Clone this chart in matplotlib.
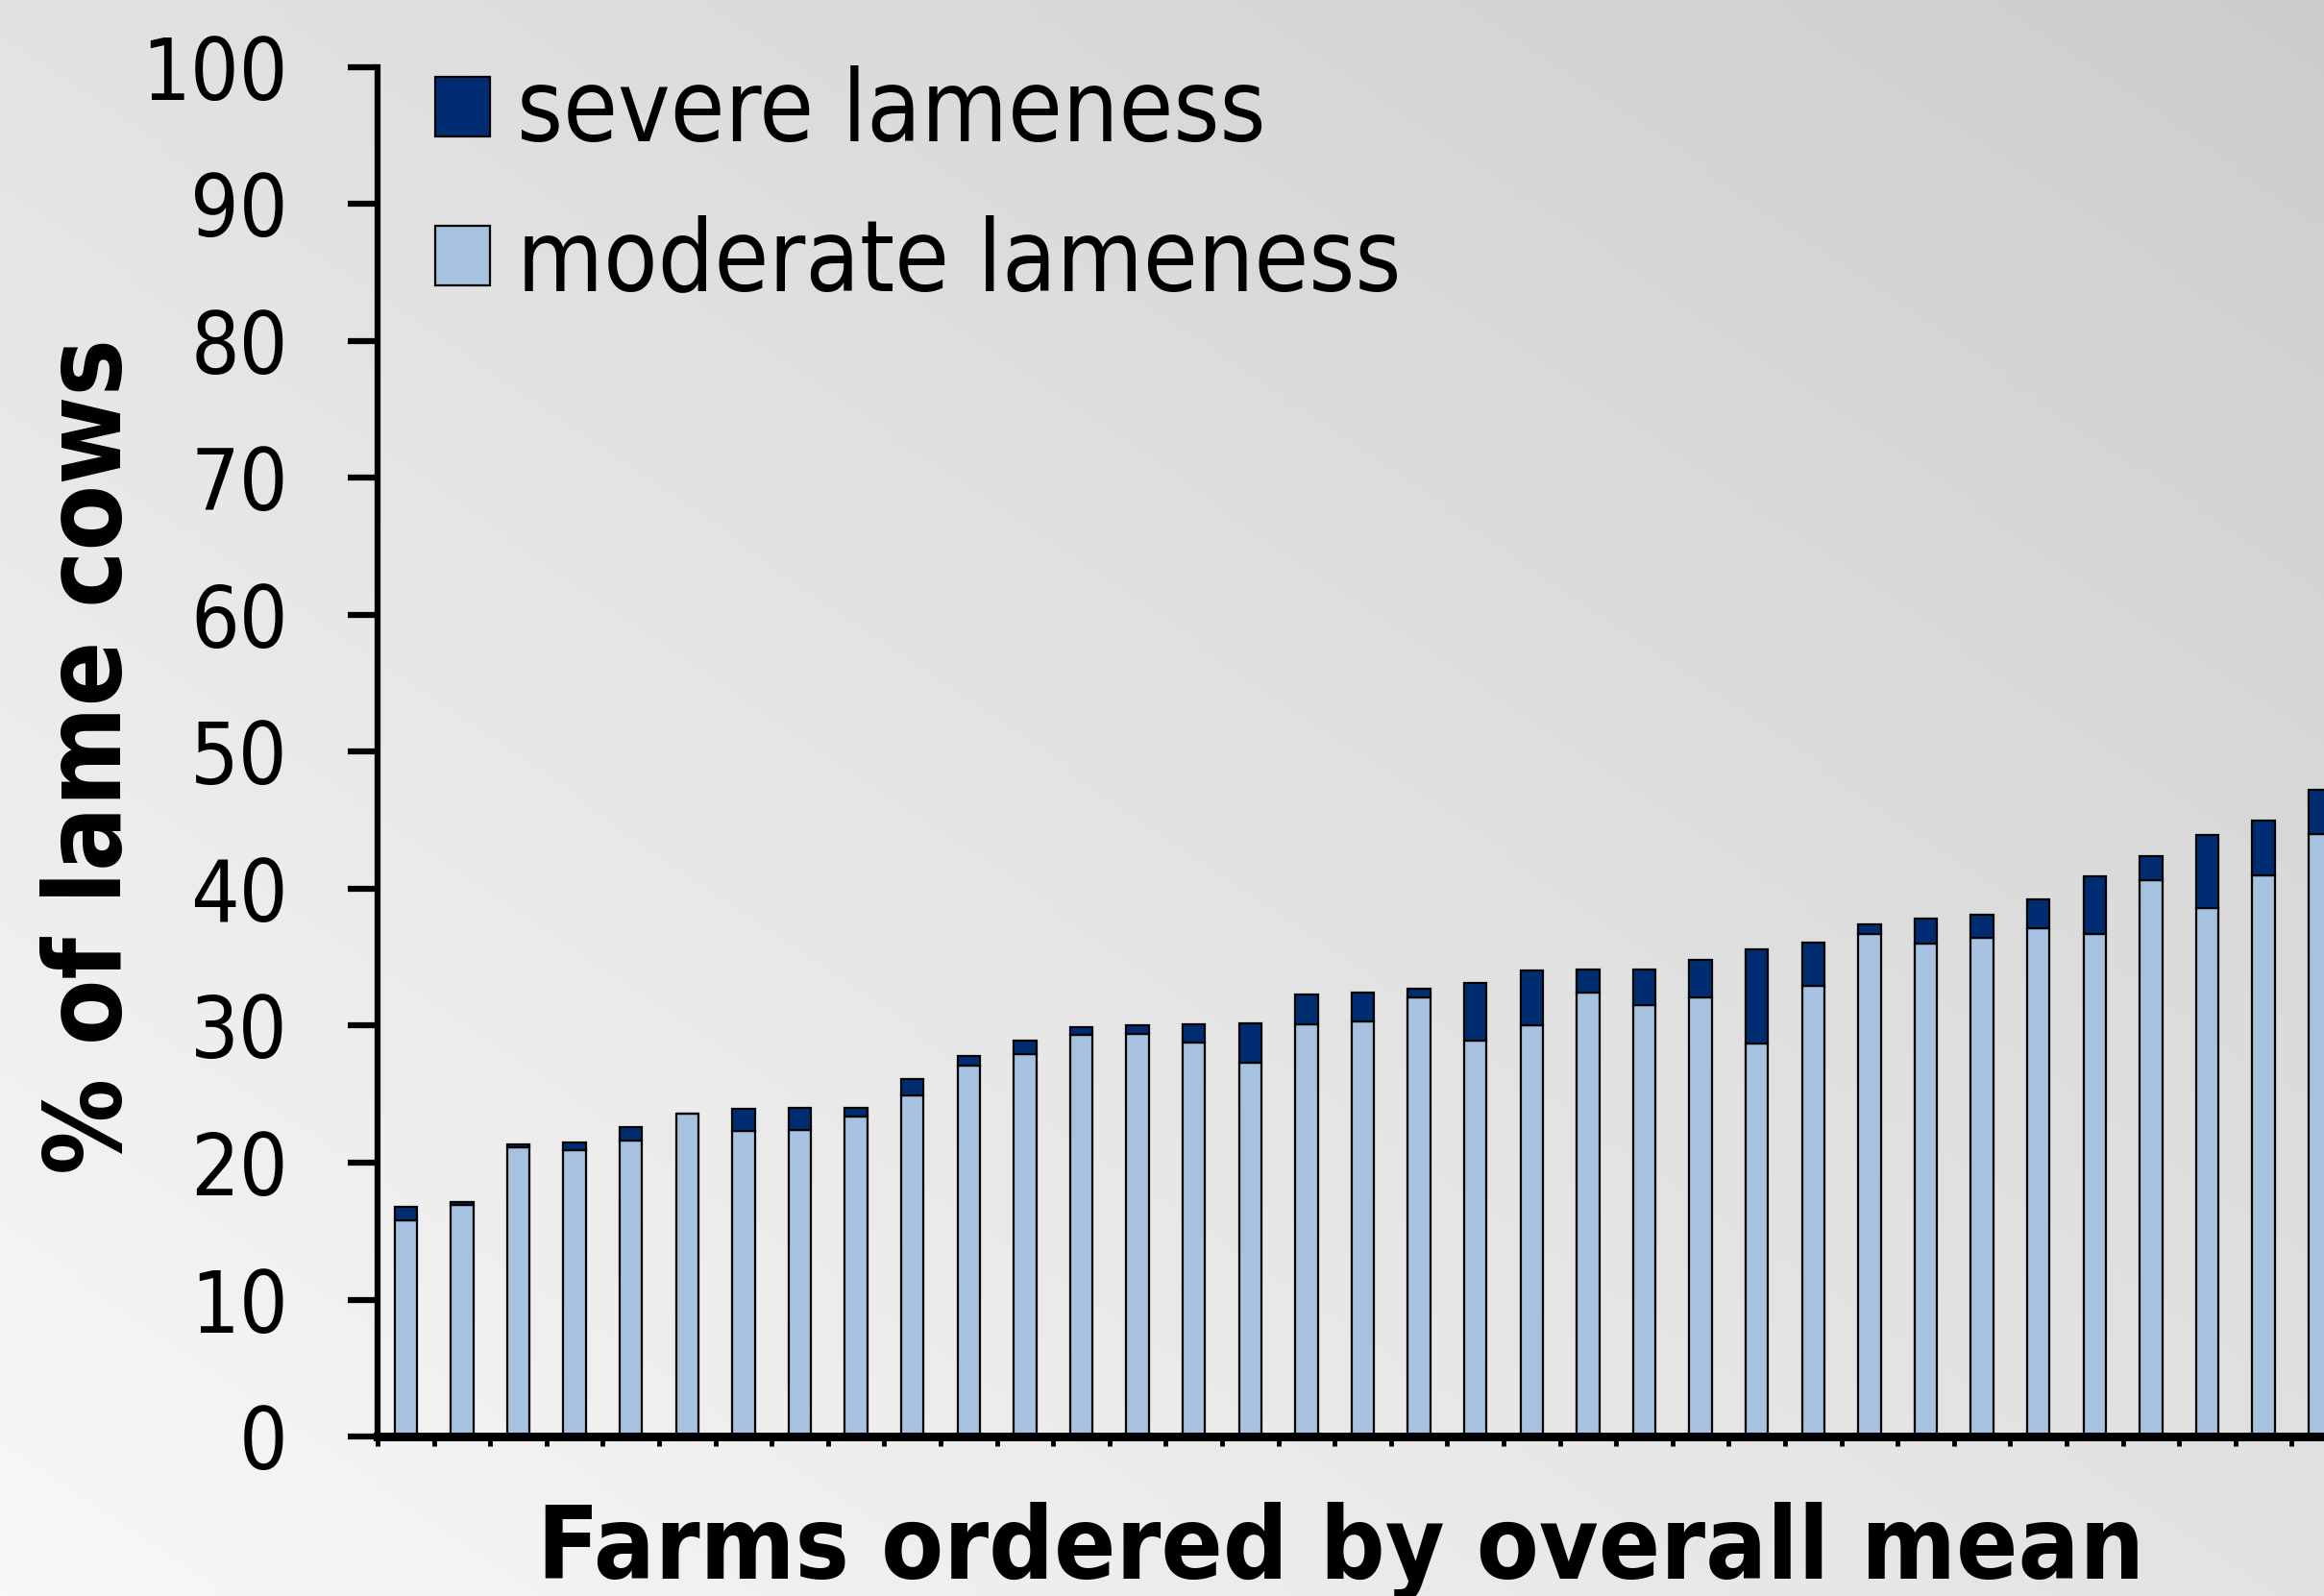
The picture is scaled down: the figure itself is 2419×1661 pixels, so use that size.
import matplotlib
matplotlib.use("Agg")
import matplotlib.pyplot as plt
from matplotlib import font_manager
import numpy as np

# % of lame cows per farm, farms ordered by overall mean
moderate = [15.8, 16.9, 21.1, 20.9, 21.6, 23.6, 22.3, 22.4, 23.4, 24.9,
            27.1, 27.9, 29.3, 29.4, 28.8, 27.3, 30.1, 30.3, 32.1, 28.9,
            30.0, 32.4, 31.5, 32.1, 28.7, 32.9, 36.7, 36.0, 36.4, 37.1,
            36.7, 40.6, 38.6, 41.0, 44.0]
total = [16.8, 17.1, 21.3, 21.5, 22.6, 23.6, 23.9, 24.0, 24.0, 26.1,
         27.8, 28.9, 29.9, 30.0, 30.1, 30.2, 32.3, 32.4, 32.7, 33.1,
         34.0, 34.1, 34.1, 34.8, 35.6, 36.1, 37.4, 37.8, 38.1, 39.2,
         40.9, 42.4, 43.9, 45.0, 47.2]
severe = [t - m for t, m in zip(total, moderate)]
yticks = list(range(0, 101, 10))

light_blue = '#a7c1e0'
navy = '#002d72'

# the original text is tall and narrow, use condensed DejaVu when it is there
has_cond = any(f.name == 'DejaVu Sans' and f.stretch == 'condensed'
               for f in font_manager.fontManager.ttflist)
stretch = 'condensed' if has_cond else 'normal'
k = 1.0 if has_cond else 0.9
plt.rcParams['font.family'] = 'DejaVu Sans'
plt.rcParams['font.stretch'] = stretch

fig = plt.figure(figsize=(24.19, 16.61), dpi=100)

# grey gradient background, light at bottom left, darker at top right
bg = fig.add_axes([0, 0, 1, 1], zorder=-10)
gx, gy = np.meshgrid(np.linspace(0, 1, 300), np.linspace(1, 0, 200))
t = (gx + gy) / 2
v = (0xf8 + (0xcd - 0xf8) * t) / 255
bg.imshow(np.dstack([v, v, v]), extent=[0, 1, 0, 1], aspect='auto')
bg.axis('off')

ax = fig.add_axes([393 / 2419, 0.0999, (2444 - 393) / 2419, 0.958 - 0.0999])
ax.set_facecolor('none')

x = np.arange(len(moderate)) + 0.5
b_mod = ax.bar(x, moderate, width=0.4, color=light_blue, edgecolor='black',
               linewidth=1.6, label='moderate lameness')
b_sev = ax.bar(x, severe, width=0.4, bottom=moderate, color=navy,
               edgecolor='black', linewidth=1.6, label='severe lameness')

ax.set_xlim(0, len(moderate))
ax.set_ylim(0, 100)
ax.set_yticks(yticks)
ax.set_xticks(np.arange(0, len(moderate) + 1))
ax.set_xticklabels([])
ax.tick_params(axis='y', direction='out', length=22, width=4.5, labelsize=64 * k, pad=45)
ax.tick_params(axis='x', direction='out', length=7, width=3.5)
for side in ['top', 'right']:
    ax.spines[side].set_visible(False)
ax.spines['left'].set_linewidth(4.5)
ax.spines['bottom'].set_linewidth(6.5)

ax.legend(handles=[b_sev, b_mod], loc='upper left', bbox_to_anchor=(453 / 2419, 1 - 68 / 1661),
          bbox_transform=fig.transFigure, frameon=False, fontsize=74 * k,
          handlelength=0.55, handleheight=0.55, handletextpad=0.28,
          labelspacing=0.53, borderpad=0, borderaxespad=0)

fig.text(96 / 2419, 0.526, '% of lame cows', rotation=90, fontsize=80 * k,
         fontweight='bold', ha='center', va='center')
fig.text(1396 / 2419, 0.011, 'Farms ordered by overall mean', fontsize=76 * k,
         fontweight='bold', ha='center', va='baseline')

fig.savefig('out.png', dpi=100)
